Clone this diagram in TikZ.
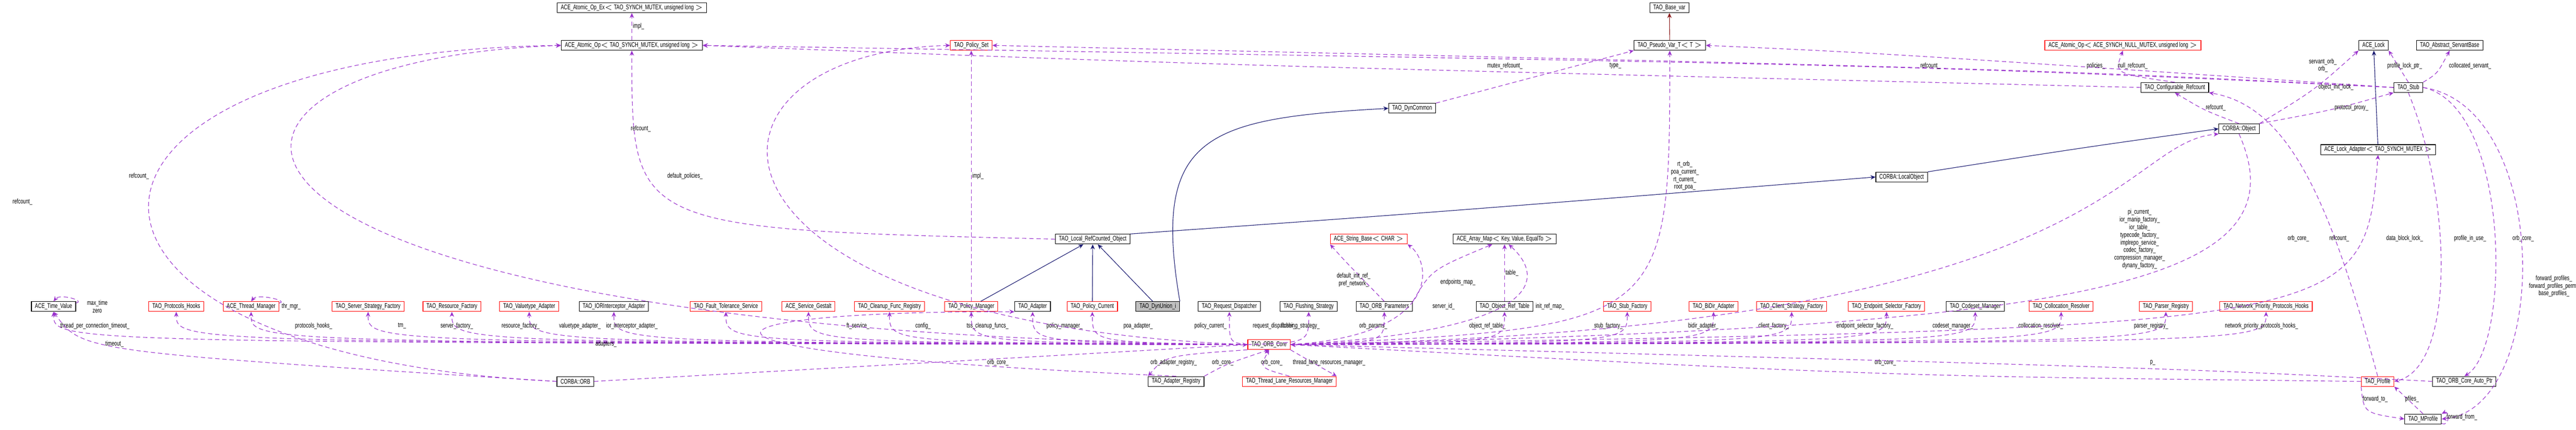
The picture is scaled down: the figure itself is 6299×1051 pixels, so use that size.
\documentclass[tikz,border=0pt]{standalone}
\usepackage{fontspec}
\setmainfont{Liberation Sans}[FakeStretch=0.7]
\usetikzlibrary{arrows.meta,calc}

\definecolor{relcol}{HTML}{9A32CD}
\definecolor{inhcol}{HTML}{191970}
\definecolor{tplcol}{HTML}{8B1A1A}

\tikzset{
    cls/.style = {draw = black, fill = white, font = \fontsize{4.7}{5.5}\selectfont,
        minimum height = 0.24cm, inner xsep = 2.5pt, inner ysep = 0pt},
    clsred/.style = {cls, draw = red},
    clsgray/.style = {cls, fill = black!25},
    rel/.style = {draw = relcol, dashed, dash pattern = on 3pt off 2pt, thin,
        -{Stealth[length = 3.5pt, width = 3pt]}},
    inh/.style = {draw = inhcol, thin, -{Stealth[length = 3.5pt, width = 3pt]}},
    lbl/.style = {font = \fontsize{4.7}{5.3}\selectfont, inner sep = 0.5pt, align = center}
}

\begin{document}
\begin{tikzpicture}[x = 0.01cm, y = -0.01cm]
    \useasboundingbox (0, 0) rectangle (6299, 1051);

    % top row
    \node[cls] (opex) at (1545, 19) {ACE\_Atomic\_Op\_Ex$<$ TAO\_SYNCH\_MUTEX, unsigned long $>$};
    \node[cls] (op) at (1545, 111) {ACE\_Atomic\_Op$<$ TAO\_SYNCH\_MUTEX, unsigned long $>$};
    \node[clsred] (polset) at (2375, 111) {TAO\_Policy\_Set};
    \node[cls] (basevar) at (4082, 19) {TAO\_Base\_var};
    \node[cls] (pseudo) at (4083, 111) {TAO\_Pseudo\_Var\_T$<$ T $>$};
    \node[clsred] (nullop) at (5191, 111) {ACE\_Atomic\_Op$<$ ACE\_SYNCH\_NULL\_MUTEX, unsigned long $>$};
    \node[cls] (lock) at (5804, 111) {ACE\_Lock};
    \node[cls] (servant) at (5990, 111) {TAO\_Abstract\_ServantBase};
    \node[cls] (confref) at (5318, 214) {TAO\_Configurable\_Refcount};
    \node[cls] (stub) at (5889, 214) {TAO\_Stub};
    \node[cls] (dyncommon) at (3453, 265) {TAO\_DynCommon};
    \node[cls] (object) at (5475, 315) {CORBA::Object};
    \node[cls] (lockadapt) at (5815, 366) {ACE\_Lock\_Adapter$<$ TAO\_SYNCH\_MUTEX $>$};
    \node[cls] (localobj) at (4650, 433) {CORBA::LocalObject};
    \node[cls] (lro) at (2672, 585) {TAO\_Local\_RefCounted\_Object};
    \node[clsred] (strbase) at (3347, 585) {ACE\_String\_Base$<$ CHAR $>$};
    \node[cls] (arrmap) at (3679, 585) {ACE\_Array\_Map$<$ Key, Value, EqualTo $>$};

    % middle row
    \node[cls] (timeval) at (131, 750) {ACE\_Time\_Value};
    \node[clsred] (hooks) at (431, 750) {TAO\_Protocols\_Hooks};
    \node[clsred] (thrmgr) at (614, 750) {ACE\_Thread\_Manager};
    \node[clsred] (server) at (900, 750) {TAO\_Server\_Strategy\_Factory};
    \node[clsred] (resource) at (1105, 750) {TAO\_Resource\_Factory};
    \node[clsred] (valtype) at (1294, 750) {TAO\_Valuetype\_Adapter};
    \node[cls] (ior) at (1501, 750) {TAO\_IORInterceptor\_Adapter};
    \node[clsred] (ftsvc) at (1775, 750) {TAO\_Fault\_Tolerance\_Service};
    \node[clsred] (gestalt) at (1977, 750) {ACE\_Service\_Gestalt};
    \node[clsred] (cleanup) at (2175, 750) {TAO\_Cleanup\_Func\_Registry};
    \node[clsred] (polman) at (2375, 750) {TAO\_Policy\_Manager};
    \node[cls] (adapter) at (2525, 750) {TAO\_Adapter};
    \node[clsred] (polcur) at (2671, 750) {TAO\_Policy\_Current};
    \node[clsgray] (dynunion) at (2831, 750) {TAO\_DynUnion\_i};
    \node[cls] (reqdisp) at (3006, 750) {TAO\_Request\_Dispatcher};
    \node[cls] (flush) at (3200, 750) {TAO\_Flushing\_Strategy};
    \node[cls] (orbparams) at (3385, 750) {TAO\_ORB\_Parameters};
    \node[cls] (objref) at (3679, 750) {TAO\_Object\_Ref\_Table};
    \node[clsred] (stubf) at (3979, 750) {TAO\_Stub\_Factory};
    \node[clsred] (bidir) at (4190, 750) {TAO\_BiDir\_Adapter};
    \node[clsred] (clientf) at (4381, 750) {TAO\_Client\_Strategy\_Factory};
    \node[clsred] (endsel) at (4613, 750) {TAO\_Endpoint\_Selector\_Factory};
    \node[cls] (codeset) at (4830, 750) {TAO\_Codeset\_Manager};
    \node[clsred] (collres) at (5040, 750) {TAO\_Collocation\_Resolver};
    \node[clsred] (parser) at (5296, 750) {TAO\_Parser\_Registry};
    \node[clsred] (netprio) at (5541, 750) {TAO\_Network\_Priority\_Protocols\_Hooks};

    % bottom rows
    \node[clsred] (core) at (3103, 843) {TAO\_ORB\_Core};
    \node[cls] (orb) at (1407, 933) {CORBA::ORB};
    \node[cls] (adreg) at (2876, 933) {TAO\_Adapter\_Registry};
    \node[clsred] (tlrm) at (3153, 933) {TAO\_Thread\_Lane\_Resources\_Manager};
    \node[clsred] (profile) at (5814, 933) {TAO\_Profile};
    \node[cls] (autoptr) at (6026, 933) {TAO\_ORB\_Core\_Auto\_Ptr};
    \node[cls] (mprofile) at (5925, 1025) {TAO\_MProfile};

    % inheritance
    \draw[inh] (lro.north east) .. controls (3500, 520) .. (localobj.west);
    \draw[inh] (localobj.north east) .. controls (5100, 360) .. (object.west);
    \foreach \k in {polman, polcur, dynunion}
        \draw[inh] (\k) -- (lro);
    \draw[inh] (dynunion.north east) .. controls (2815, 330) and (2950, 290) .. (dyncommon.west);
    \draw[inh] (lockadapt) -- (lock);
    \draw[inh, draw = tplcol, -{Stealth[length = 3.5pt, width = 3pt, fill = tplcol]}] (pseudo) -- (basevar);

    % members of the ORB core
    \foreach \t/\l/\lx in {ior/ior\_interceptor\_adapter\_/1545, valtype/valuetype\_adapter\_/1418,
        resource/resource\_factory\_/1273, server/server\_factory\_/1117, thrmgr/tm\_/983,
        hooks/protocols\_hooks\_/767, timeval/thread\_per\_connection\_timeout\_/232,
        ftsvc/ft\_service\_/2098, gestalt/config\_/2257, cleanup/tss\_cleanup\_funcs\_/2415,
        polman/policy\_manager\_/2603, adapter/poa\_adapter\_/2783, polcur/policy\_current\_/2960,
        reqdisp/request\_dispatcher\_/3116, flush/flushing\_strategy\_/3180}{
        \draw[rel] (core.west) .. controls ($(\t.south) + (0, 75)$) .. (\t.south);
        \node[lbl] at (\lx, 797) {\l};
    }
    \foreach \t/\l/\lx in {orbparams/orb\_params\_/3358, objref/object\_ref\_table\_/3637,
        stubf/stub\_factory\_/3933, bidir/bidir\_adapter\_/4165, clientf/client\_factory\_/4337,
        endsel/endpoint\_selector\_factory\_/4560, codeset/codeset\_manager\_/4775,
        collres/collocation\_resolver\_/4990, parser/parser\_registry\_/5260,
        netprio/network\_priority\_protocols\_hooks\_/5530}{
        \draw[rel] (core.east) .. controls ($(\t.south) + (0, 75)$) .. (\t.south);
        \node[lbl] at (\lx, 797) {\l};
    }
    \draw[rel] (core.east) .. controls (3530, 820) and (3500, 640) .. (strbase.south east);
    \node[lbl] at (3530, 750) {server\_id\_};
    \draw[rel] (core.east) .. controls (3780, 810) and (3780, 680) .. ($(arrmap.south) + (10, 0)$);
    \node[lbl] at (3790, 750) {init\_ref\_map\_};
    \draw[rel] (core.east) .. controls (4083, 800) .. (pseudo.south);
    \node[lbl] at (4120, 430) {rt\_orb\_\\poa\_current\_\\rt\_current\_\\root\_poa\_};
    \draw[rel] (core.east) .. controls (5175, 810) and (5175, 350) .. (object.south west);
    \node[lbl] at (5232, 585) {pi\_current\_\\ior\_manip\_factory\_\\ior\_table\_\\typecode\_factory\_\\implrepo\_service\_\\codec\_factory\_\\compression\_manager\_\\dynany\_factory\_};
    \draw[rel] (core.east) .. controls (5780, 800) .. (lockadapt.south);
    \node[lbl] at (5880, 583) {data\_block\_lock\_};
    \draw[rel] (core.west) .. controls (1640, 790) and (1640, 130) .. (polset.west);
    \node[lbl] at (1675, 431) {default\_policies\_};
    \draw[rel] (core.west) .. controls (310, 810) and (310, 150) .. (op.west);
    \node[lbl] at (340, 431) {refcount\_};

    % other members
    \draw[rel] (op) -- (opex) node[lbl, midway, right] {impl\_};
    \draw[rel] (orb.west) .. controls (30, 870) and (30, 130) .. (op.west);
    \node[lbl] at (55, 494) {refcount\_};
    \draw[rel] (orb.west) .. controls (200, 860) .. (timeval.south);
    \node[lbl] at (280, 842) {timeout\_};
    \draw[rel] ($(timeval.north east) + (0, 4)$) .. controls +(25, -5) and +(15, -20) .. (timeval.north);
    \node[lbl] at (238, 750) {max\_time\\zero};
    \draw[rel] ($(thrmgr.north east) + (0, 4)$) .. controls +(25, -5) and +(15, -20) .. (thrmgr.north);
    \node[lbl] at (712, 750) {thr\_mgr\_};
    \draw[rel] (lro.west) .. controls (1545, 560) .. (op.south);
    \node[lbl] at (1567, 315) {refcount\_};
    \draw[rel] (polman) -- (polset) node[lbl, midway, right] {impl\_};
    \draw[rel] (orb.east) .. controls (2400, 880) .. (core.west);
    \node[lbl] at (2440, 887) {orb\_core\_};
    \draw[rel] (adreg.north) .. controls (1480, 860) and (1700, 760) .. (adapter.south west);
    \node[lbl] at (1482, 842) {adapters\_};
    \draw[rel] (core.south west) .. controls (2850, 870) .. (adreg.north west);
    \node[lbl] at (2870, 887) {orb\_adapter\_registry\_};
    \draw[rel] (adreg.north east) .. controls (3000, 890) .. (core.south);
    \node[lbl] at (2990, 887) {orb\_core\_};
    \draw[rel] (tlrm.north) .. controls (3080, 900) .. (core.south);
    \node[lbl] at (3110, 887) {orb\_core\_};
    \draw[rel] (core.south east) .. controls (3180, 870) .. (tlrm.north east);
    \node[lbl] at (3250, 887) {thread\_lane\_resources\_manager\_};
    \draw[rel] (orbparams.north) .. controls (3290, 640) .. (strbase.south west);
    \node[lbl] at (3310, 685) {default\_init\_ref\_\\pref\_network\_};
    \draw[rel] (orbparams.north east) .. controls (3500, 660) .. ($(arrmap.south) - (30, 0)$);
    \node[lbl] at (3565, 690) {endpoints\_map\_};
    \draw[rel] (objref) -- (arrmap) node[lbl, midway, right] {table\_};
    \draw[rel] (dyncommon.north east) -- (pseudo.south west);
    \node[lbl] at (3950, 161) {type\_};
    \draw[rel] (confref.west) .. controls (3000, 160) .. (op.east);
    \node[lbl] at (3680, 161) {mutex\_refcount\_};
    \draw[rel] (confref.north) .. controls (5170, 180) .. (nullop.south);
    \node[lbl] at (5215, 161) {null\_refcount\_};
    \draw[rel] (stub.west) .. controls (5000, 170) .. (polset.east);
    \node[lbl] at (5125, 161) {policies\_};
    \draw[rel] (stub.west) .. controls (4700, 160) .. (op.east);
    \node[lbl] at (4720, 161) {refcount\_};
    \draw[rel] (stub.west) .. controls (4600, 130) .. (pseudo.east);
    \node[lbl] at (5680, 160) {servant\_orb\_\\orb\_};
    \draw[rel] (stub.north) -- (lock.south east);
    \node[lbl] at (5880, 161) {profile\_lock\_ptr\_};
    \draw[rel] (stub.north east) .. controls (5960, 180) .. (servant.south);
    \node[lbl] at (6040, 161) {collocated\_servant\_};
    \draw[rel] (object.north east) .. controls (5660, 220) .. (lock.south west);
    \node[lbl] at (5712, 213) {object\_init\_lock\_};
    \draw[rel] (object.north) .. controls (5390, 270) .. (confref.south);
    \node[lbl] at (5418, 263) {refcount\_};
    \draw[rel] (object.north east) .. controls (5700, 270) .. (stub.south west);
    \node[lbl] at (5750, 263) {protocol\_proxy\_};
    \draw[rel] (object.south) .. controls (5640, 700) and (5100, 800) .. (core.east);
    \node[lbl] at (5620, 583) {orb\_core\_};
    \draw[rel] (profile.north) .. controls (5700, 500) and (5600, 260) .. (confref.south east);
    \node[lbl] at (5720, 583) {refcount\_};
    \draw[rel] (stub.south) .. controls (6000, 500) and (6000, 900) .. (profile.east);
    \node[lbl] at (6040, 583) {profile\_in\_use\_};
    \draw[rel] (stub.east) .. controls (6140, 260) and (6140, 850) .. (autoptr.north);
    \node[lbl] at (6170, 583) {orb\_core\_};
    \draw[rel] (stub.east) .. controls (6240, 260) and (6240, 1000) .. (mprofile.east);
    \node[lbl] at (6245, 700) {forward\_profiles\_\\forward\_profiles\_perm\_\\base\_profiles\_};
    \draw[rel] (profile.south west) .. controls (5780, 1010) .. (mprofile.west);
    \node[lbl] at (5808, 977) {forward\_to\_};
    \draw[rel] (mprofile.north) -- (profile.south east);
    \node[lbl] at (5898, 977) {pfiles\_};
    \draw[rel] ($(mprofile.south east) + (0, -2)$) .. controls +(20, 10) and +(20, -10) .. (mprofile.north east);
    \node[lbl] at (6020, 1020) {forward\_from\_};
    \draw[rel] (profile.west) .. controls (4600, 920) .. (core.east);
    \node[lbl] at (4610, 887) {orb\_core\_};
    \draw[rel] (autoptr.west) .. controls (5300, 900) .. (core.east);
    \node[lbl] at (5264, 887) {p\_};
\end{tikzpicture}
\end{document}
